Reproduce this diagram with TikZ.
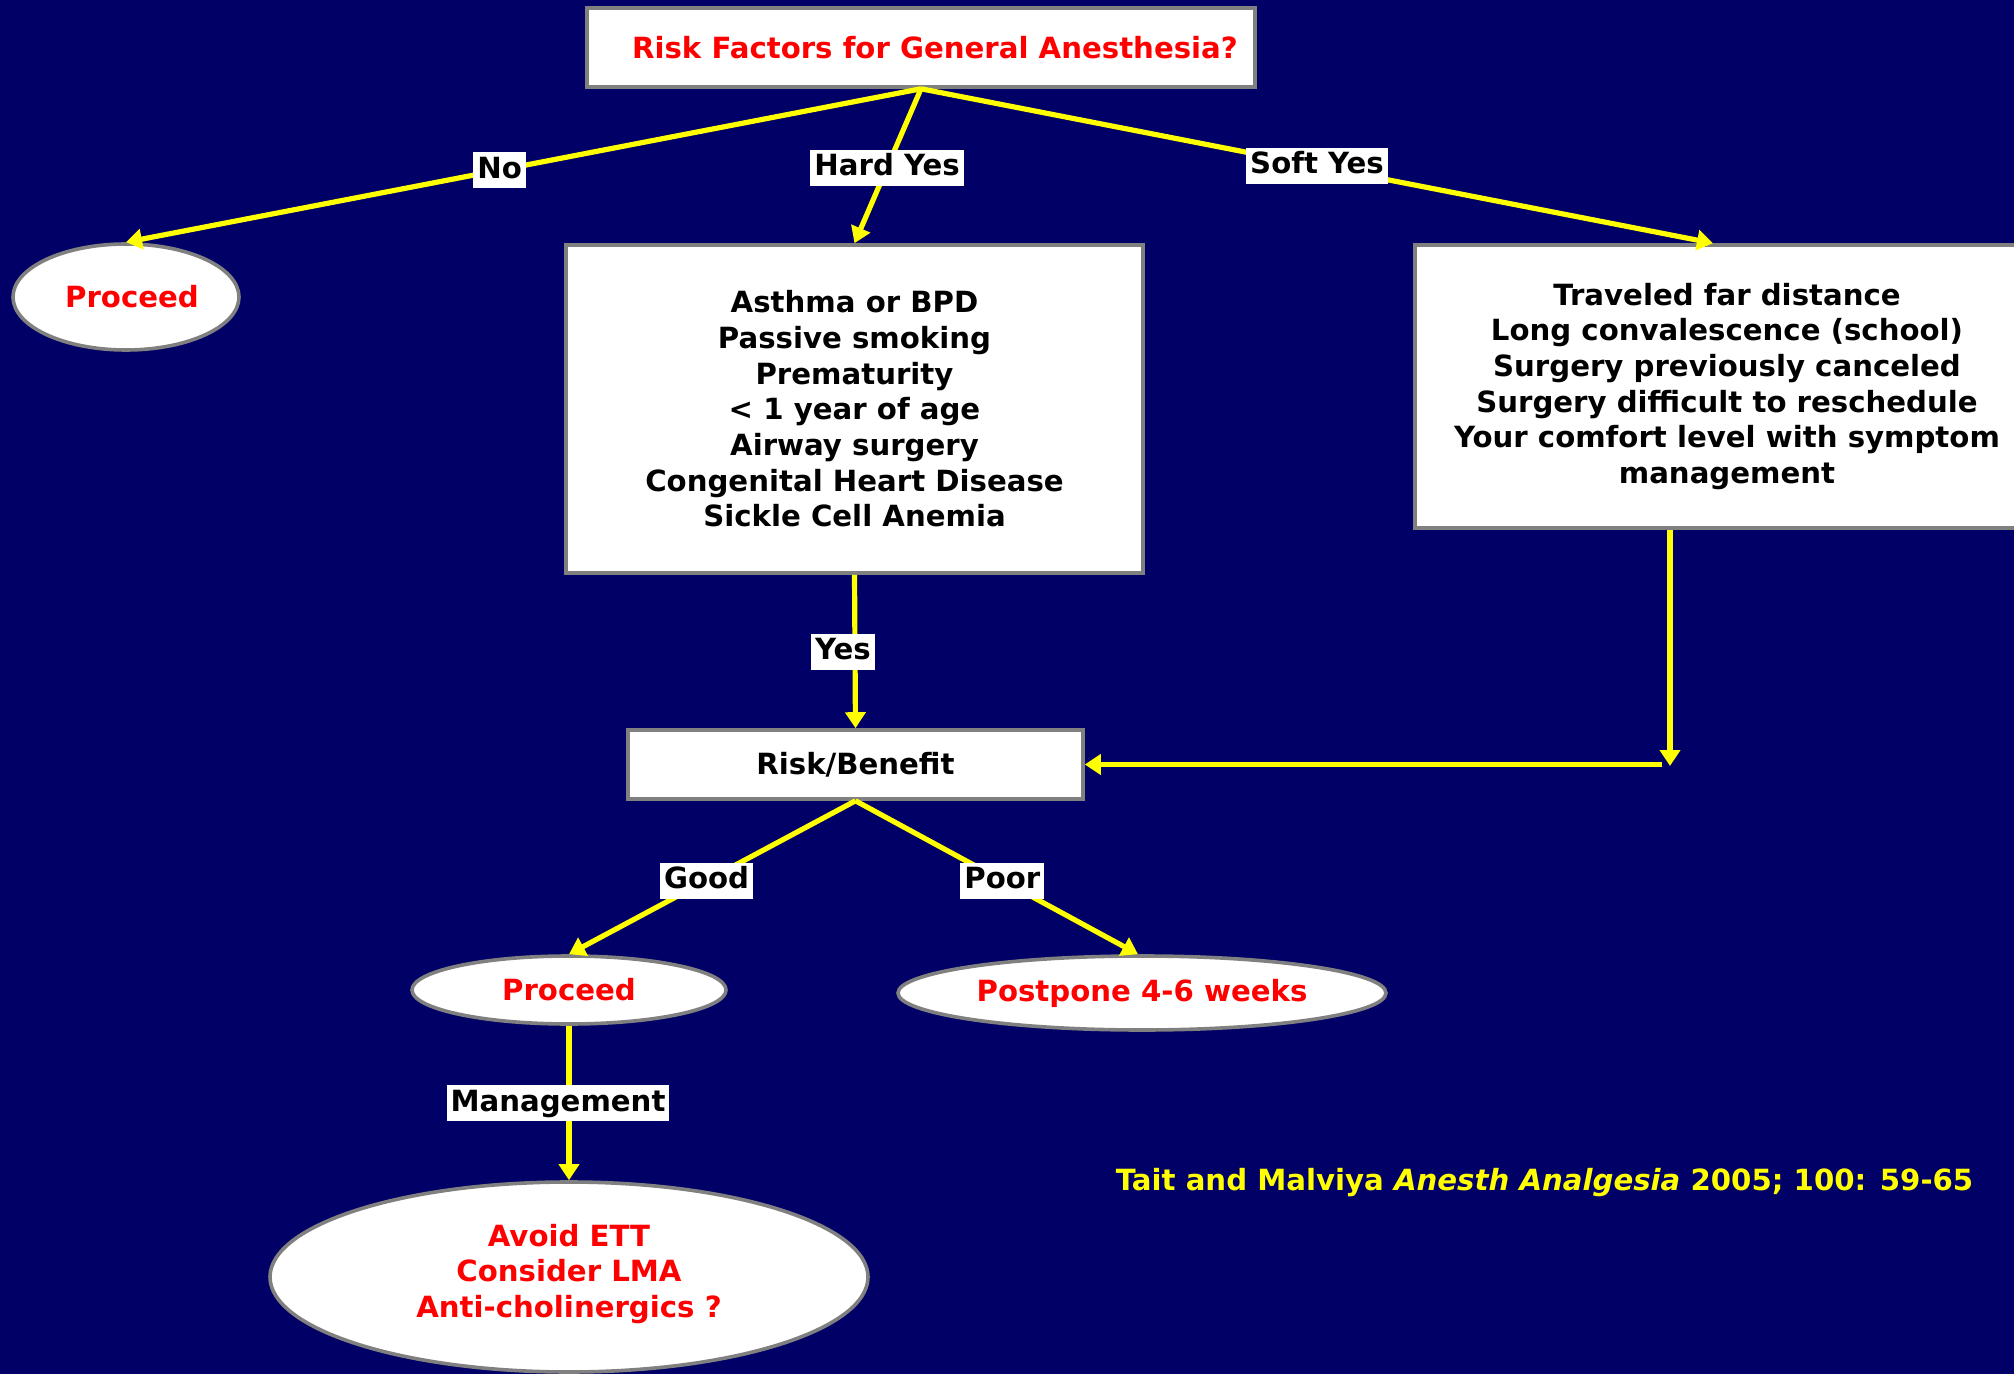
\documentclass[tikz,border=0pt]{standalone}
\usepackage{fontspec}
\setmainfont{DejaVu Sans}
\usepackage{tikz}
\usetikzlibrary{arrows.meta,shapes.geometric}
\definecolor{slidebg}{RGB}{0,0,102}
\definecolor{boxedge}{RGB}{128,128,128}
\definecolor{hotred}{RGB}{255,0,0}
\definecolor{lemon}{RGB}{255,255,0}
\newcommand\bigfont{\fontsize{14.6}{17.85}\selectfont\bfseries}

\begin{document}
\begin{tikzpicture}[x=.5pt, y=-.5pt,
  box/.style={draw=boxedge, line width=1.8pt, fill=white, align=center, font=\bigfont, inner sep=0pt},
  oval/.style={ellipse, draw=boxedge, line width=1.8pt, fill=white, align=center, font=\bigfont, text=hotred, inner sep=0pt},
  tag/.style={fill=white, text=black, font=\bigfont, inner xsep=2pt, inner ysep=2pt, text height=11pt, text depth=3pt},
  link/.style={lemon, line width=2.6pt, -{Triangle[length=8pt,width=10pt]}}]
%\draw[step=100,gray,very thin] (0,0) grid (2014,1374);
\fill[slidebg] (0,0) rectangle (2014,1374);%%
\useasboundingbox (0,0) rectangle (2014,1374);%%
% boxes
\node[box, text=hotred, minimum width=334pt, minimum height=39.5pt] (top) at (921,47.5) {\hspace*{14pt}Risk Factors for General Anesthesia?};%%
\node[oval, minimum width=113pt, minimum height=53pt] (proc1) at (126,297) {\hspace*{6pt}Proceed};%%
\node[box, minimum width=288.5pt, minimum height=164pt] (hard) at (854.5,409) {Asthma or BPD\\ Passive smoking\\ Prematurity\\ < 1 year of age\\ Airway surgery\\ Congenital Heart Disease\\ Sickle Cell Anemia};%%
\node[box, minimum width=312pt, minimum height=141.5pt] (soft) at (1727,386.5) {Traveled far distance\\ Long convalescence (school)\\ Surgery previously canceled\\ Surgery difficult to reschedule\\ Your comfort level with symptom\\ management};%%
\node[box, minimum width=227.5pt, minimum height=34.5pt] (rb) at (855.5,764.5) {Risk/Benefit};%%
\node[oval, minimum width=157pt, minimum height=34pt] (proc2) at (569,990) {Proceed};%%
\node[oval, minimum width=244pt, minimum height=37pt] (post) at (1142,993) {Postpone 4-6 weeks};%%
\node[oval, minimum width=299pt, minimum height=95pt] (avoid) at (569,1277) {Avoid ETT\\ Consider LMA\\ Anti-cholinergics ?\\[-11.5pt]\mbox{}};%%
\coordinate (turn) at (1670,766);%%
% arrows
\draw[link] (top.south) -- node[tag,pos=.53] {No} (proc1.north);%%
\draw[link] (top.south) -- node[tag,pos=.51] {Hard Yes} (hard.north);%%
\draw[link] (top.south) -- node[tag,pos=.5] {Soft Yes} ([xshift=-7pt]soft.north);%%
\draw[link] (hard.south) -- node[tag,xshift=-6pt] {Yes} (rb.north);%%
\draw[link] (soft.south -| turn) -- (turn);%%
\draw[link] ([xshift=-4pt]turn |- rb.east) -- (rb.east);%%
\draw[link] (rb.south) -- node[tag,pos=.52] {Good} (proc2.north);%%
\draw[link] (rb.south) -- node[tag,pos=.52] {Poor} ([xshift=-2pt]post.north);%%
\draw[link] (proc2.south) -- node[tag,xshift=-5.5pt] {Management} (avoid.north);%%
\node[lemon, font=\bigfont] (cite) at (1544.5,1183) {Tait and Malviya \textit{Anesth Analgesia} 2005; 100: 59-65};%%
\end{tikzpicture}
\end{document}
